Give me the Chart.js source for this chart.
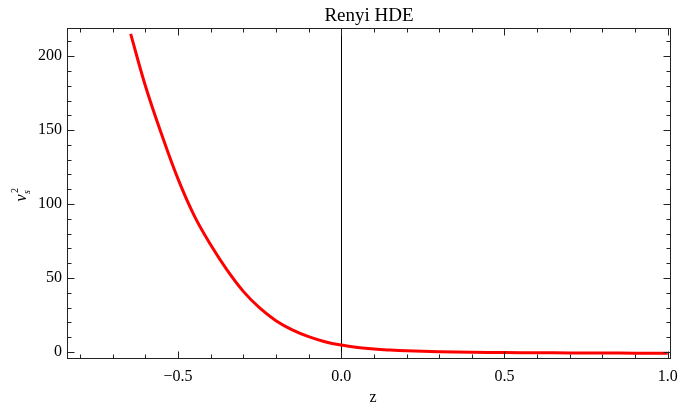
<!DOCTYPE html>
<html>
<head>
<meta charset="utf-8">
<script src="https://cdn.jsdelivr.net/npm/chart.js@4.4.0/dist/chart.umd.min.js"></script>
<style>
  html, body { margin: 0; padding: 0; background: #fff; }
  #box { width: 680px; height: 408px; }
</style>
</head>
<body>
<div id="box"><canvas id="hdeChart" width="680" height="408"></canvas></div>
<script>
// sound speed squared of the Renyi HDE model against redshift
const zVals = [-0.645, -0.6, -0.55, -0.5, -0.45, -0.4, -0.35, -0.3, -0.25, -0.2, -0.15, -0.1, -0.05, 0, 0.05, 0.1, 0.15, 0.2, 0.3, 0.4, 0.5, 0.6, 0.7, 0.8, 0.9, 1.0];
const vs2 = [215, 180, 147, 117, 92, 72.5, 55.5, 41, 29.8, 21.2, 15, 10.4, 7, 4.7, 3.1, 2.0, 1.3, 0.8, 0.2, -0.1, -0.35, -0.5, -0.6, -0.7, -0.75, -0.8];

const xTicks = [-0.5, 0, 0.5, 1.0];
const yTicks = [0, 50, 100, 150, 200];
const xMinor = [-0.8, -0.7, -0.6, -0.4, -0.3, -0.2, -0.1, 0.1, 0.2, 0.3, 0.4, 0.6, 0.7, 0.8, 0.9];
const yMinor = [10, 20, 30, 40, 60, 70, 80, 90, 110, 120, 130, 140, 160, 170, 180, 190, 210];

const titleText = 'Renyi HDE';
const serif = "'Liberation Serif', 'DejaVu Serif', serif";

let points = [];
for (let i = 0; i < zVals.length; i++) {
    points.push({x: zVals[i], y: vs2[i]});
}

function fmtX(v) {
    let s = Math.abs(v).toFixed(1);
    return v < 0 ? '\u2212' + s : s;
}

// frame, inward ticks on all four sides, zero line and labels
const framePlugin = {
    id: 'frame',
    beforeDatasetsDraw(chart) {
        const ctx = chart.ctx;
        const a = chart.chartArea;
        const xs = chart.scales.x;
        ctx.save();
        ctx.strokeStyle = '#000';
        ctx.lineWidth = 1;
        let x0 = Math.round(xs.getPixelForValue(0)) + 0.5;
        ctx.beginPath();
        ctx.moveTo(x0, a.top);
        ctx.lineTo(x0, a.bottom);
        ctx.stroke();
        ctx.restore();
    },
    afterDraw(chart) {
        const ctx = chart.ctx;
        const a = chart.chartArea;
        const xs = chart.scales.x;
        const ys = chart.scales.y;
        const L = a.left + 0.5, R = a.right - 0.5, T = a.top + 0.5, B = a.bottom - 0.5;
        ctx.save();
        ctx.strokeStyle = '#222';
        ctx.lineWidth = 1;
        ctx.strokeRect(L, T, R - L, B - T);

        function xTick(v, len) {
            let p = Math.round(xs.getPixelForValue(v)) + 0.5;
            ctx.moveTo(p, B); ctx.lineTo(p, B - len);
            ctx.moveTo(p, T); ctx.lineTo(p, T + len);
        }
        function yTick(v, len) {
            let p = Math.round(ys.getPixelForValue(v)) + 0.5;
            ctx.moveTo(L, p); ctx.lineTo(L + len, p);
            ctx.moveTo(R, p); ctx.lineTo(R - len, p);
        }
        ctx.beginPath();
        xTicks.forEach(v => xTick(v, 7));
        xMinor.forEach(v => xTick(v, 4));
        yTicks.forEach(v => yTick(v, 7));
        yMinor.forEach(v => yTick(v, 4));
        ctx.stroke();

        ctx.fillStyle = '#000';
        ctx.textAlign = 'center';
        ctx.textBaseline = 'alphabetic';
        ctx.font = '19px ' + serif;
        ctx.fillText(titleText, (a.left + a.right) / 2, 21);

        ctx.font = '16px ' + serif;
        ctx.fillText('z', (a.left + a.right) / 2 + 4, 402);

        // y axis label: v with subscript s and superscript 2, rotated
        ctx.translate(26, (a.top + a.bottom) / 2);
        ctx.rotate(-Math.PI / 2);
        ctx.textAlign = 'left';
        ctx.font = 'italic 16px ' + serif;
        ctx.fillText('v', -8, 0);
        ctx.font = 'italic 10px ' + serif;
        ctx.fillText('s', -0.5, 4);
        ctx.font = '10px ' + serif;
        ctx.fillText('2', 0.5, -8);
        ctx.restore();
    }
};

new Chart('hdeChart', {
    type: 'line',
    data: {
        datasets: [{
            data: points,
            borderColor: 'rgb(255,0,0)',
            borderWidth: 3,
            pointRadius: 0,
            fill: false,
            tension: 0.4
        }]
    },
    options: {
        responsive: false,
        animation: false,
        layout: {padding: {left: 0, right: 9, top: 28, bottom: 0}},
        plugins: {
            legend: {display: false},
            title: {display: false},
            tooltip: {enabled: false}
        },
        scales: {
            x: {
                type: 'linear',
                min: -0.84,
                max: 1.01,
                grid: {display: false, drawTicks: false},
                border: {display: false},
                afterBuildTicks: s => { s.ticks = xTicks.map(v => ({value: v})); },
                afterFit: s => { s.height = 49; s.paddingLeft = 0; s.paddingRight = 0; },
                ticks: {
                    padding: 8,
                    color: '#000',
                    font: {family: serif, size: 16},
                    maxRotation: 0,
                    callback: v => fmtX(v)
                }
            },
            y: {
                type: 'linear',
                min: -4.7,
                max: 219,
                grid: {display: false, drawTicks: false},
                border: {display: false},
                afterBuildTicks: s => { s.ticks = yTicks.map(v => ({value: v})); },
                afterFit: s => { s.width = 67; s.paddingTop = 0; s.paddingBottom = 0; },
                ticks: {
                    padding: 5,
                    color: '#000',
                    font: {family: serif, size: 16},
                    callback: v => String(v)
                }
            }
        }
    },
    plugins: [framePlugin]
});
</script>
</body>
</html>
